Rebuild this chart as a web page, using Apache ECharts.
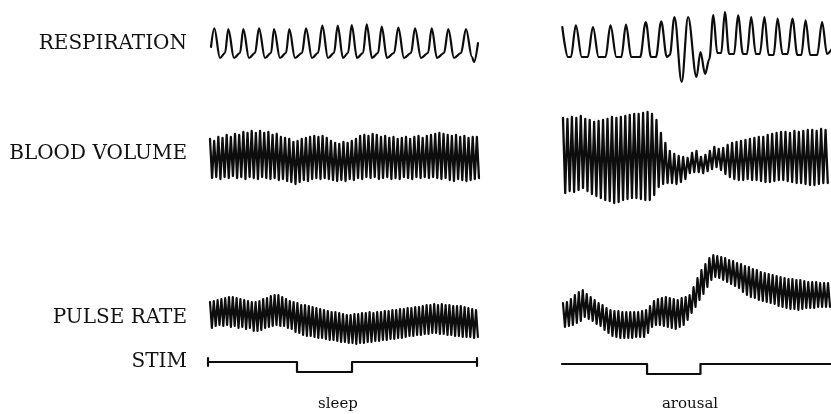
<!DOCTYPE html>
<html>
<head>
<meta charset="utf-8">
<script src="https://cdn.jsdelivr.net/npm/echarts@6/dist/echarts.min.js"></script>
<style>
html,body{margin:0;padding:0;background:#fff;}
#chart{width:831px;height:414px;}
</style>
</head>
<body>
<div id="chart"></div>
<script>
// ---- Data (time in chart units along each record, values = pen deflection) ----
var traceLabels = ['RESPIRATION', 'BLOOD VOLUME', 'PULSE RATE', 'STIM'];
var conditionLabels = ['sleep', 'arousal'];

// Respiration, sleep: [time, deflection]
var respSleep = [[3,43],[6.3,61.7],[12,32],[17,37],
  [20.3,61],[26,32],[32,37],[35.3,61],[41,32],[47,37],
  [51,61.7],[57,32],[63,37],[66,61],[72,32],[78,37],
  [81.3,61],[87,32],[94,37],[98,61.7],[104,32],[110,37],
  [114.3,64.3],[120,32],[126,37],[129.7,64.3],[135,32],[140,37],
  [143.7,65],[149,32],[155,37],[158.7,65.7],[164,32],[170,37],
  [173.7,63.3],[179,32],[186,37],[190.3,62.3],[196,32],[203,37],
  [207,61.7],[213,32],[220,37],[223.7,61.7],[229,32],[236,37],
  [240.3,61],[246,32],[253,37],[258,61],[264,33],[266,28],[270,47]];

// Respiration, arousal
var respArousal = [[0.3,63],[6,33],[9,33],[14,64.7],[20,33],[26,33],
  [31.3,63],[37,33],[44,33],[49,64.7],[55,33],[60,33],
  [64.7,65.3],[70,33],[79,33],[84.7,68],[90,33],[95,33],
  [100.3,68.7],[106,33],[109,35],[113.7,73],[121,8],[127.5,73],
  [136,13],[140,38],[144.7,16],[149,31],[153,75],[157,37],[161,37],
  [164.7,78],[169,36],[174,36],[178,74.7],[183,36],[187,36],
  [191.3,73],[196,36],[200,36],[204.7,73],[209,35],[214,35],
  [218,71.3],[223,36],[228,36],[233,71.3],[238,35],[242,35],
  [246.3,69.7],[251,35],[258,35],[263,68],[268,36],[272,40]];

// Blood volume, sleep: per beat upper / lower pen excursion
var bloodSleepStart = 2, bloodSleepBeat = 4.17;
var bloodSleepHi = [76,74,78,77,80,78,81,80,83,82,84,82,84,82,83,80,81,78,77,76,
  73,74,76,77,78,79,78,79,77,74,72,71,73,72,74,76,79,80,79,81,
  80,78,79,77,78,76,77,78,76,78,79,77,79,80,81,82,81,80,79,80,
  78,79,77,78,78];
var bloodSleepLo = [37,38,36,38,37,39,37,38,36,38,37,36,38,37,36,37,35,36,34,33,
  31,33,35,34,36,37,36,37,36,35,34,35,34,36,35,37,36,38,37,38,
  36,37,38,36,37,36,38,37,36,38,37,38,37,38,37,36,37,35,34,36,
  35,34,35,36,37];

// Blood volume, arousal
var bloodArousalStart = 1, bloodArousalBeat = 4.5;
var bloodArousalHi = [97,96,98,97,99,96,95,93,94,95,96,98,97,98,99,100,101,101,102,103,
  101,95,82,72,64,61,59,58,57,62,64,58,60,64,68,66,67,70,72,73,
  74,75,76,77,78,78,80,81,82,83,83,82,84,83,84,85,85,84,86,85];
var bloodArousalLo = [22,24,23,25,27,24,21,19,17,15,14,12,13,15,16,17,17,16,15,15,
  20,28,31,32,32,31,33,36,42,43,43,42,44,46,48,45,41,38,36,35,
  35,36,35,35,34,33,33,34,35,35,34,33,32,32,31,30,30,31,32,32];

// Pulse rate, sleep
var pulseSleepStart = 2, pulseSleepBeat = 3.8;
var pulseSleepHi = [48,49,50,51,52,53,53,52,51,50,49,48,48,49,51,52,54,55,55,53,
  51,49,48,47,45,45,44,43,42,41,40,39,38,38,37,36,35,35,36,36,
  37,37,38,37,38,38,39,39,40,40,41,41,42,42,43,43,44,45,45,46,
  45,46,45,45,44,44,44,43,42,41,40];
var pulseSleepLo = [22,24,25,24,25,23,24,22,23,21,22,19,19,20,22,23,24,25,24,24,
  22,21,18,17,15,14,14,13,12,12,11,10,10,9,8,8,7,7,6,7,
  7,8,8,9,9,10,10,11,11,12,12,13,14,14,15,15,16,16,17,17,
  16,16,15,15,14,14,13,13,13,12,13];

// Pulse rate, arousal
var pulseArousalStart = 1, pulseArousalBeat = 4;
var pulseArousalHi = [47,48,51,55,58,60,56,53,50,47,45,42,40,39,39,38,38,38,38,38,
  39,40,44,49,51,52,53,52,51,50,52,53,55,63,72,80,86,92,95,94,
  93,92,90,89,87,86,84,83,81,80,78,77,76,75,74,73,72,71,71,70,
  70,69,68,68,68,67,67,67];
var pulseArousalLo = [23,24,25,27,29,33,31,29,26,24,20,17,14,13,12,12,12,12,13,13,
  13,17,23,25,25,24,23,22,21,23,25,30,37,43,50,56,63,70,73,72,
  70,68,66,64,62,58,55,53,52,50,49,48,47,46,44,43,42,41,41,40,
  41,42,42,42,43,43,43,43];

// Stimulus marker: [time, level]
var stimSleep = [[0,20],[0,12],[0,16],[89,16],[89,6],[144,6],[144,16],[269,16],[269,20],[269,12]];
var stimArousal = [[0,14],[86,14],[86,4],[140,4],[140,14],[272,14]];

// ---- Build beat-by-beat traces ----
function beats(start, beat, hi, lo) {
  var out = [];
  for (var i = 0; i < hi.length; i++) {
    out.push([start + i * beat, hi[i]]);
    out.push([start + (i + 0.5) * beat, lo[i]]);
  }
  return out;
}

var cols = [208, 562];
var rows = [{top: 15, h: 75}, {top: 105, h: 110}, {top: 245, h: 105}, {top: 352, h: 26}];
var traces = [
  [respSleep, respArousal],
  [beats(bloodSleepStart, bloodSleepBeat, bloodSleepHi, bloodSleepLo),
   beats(bloodArousalStart, bloodArousalBeat, bloodArousalHi, bloodArousalLo)],
  [beats(pulseSleepStart, pulseSleepBeat, pulseSleepHi, pulseSleepLo),
   beats(pulseArousalStart, pulseArousalBeat, pulseArousalHi, pulseArousalLo)],
  [stimSleep, stimArousal]
];
var widths = [2.2, 2.3, 2.2, 2.2];
var smooth = [0.35, false, false, false];

var grids = [], xAxes = [], yAxes = [], series = [];
var k = 0;
for (var r = 0; r < rows.length; r++) {
  for (var c = 0; c < 2; c++) {
    grids.push({left: cols[c], top: rows[r].top, width: 272, height: rows[r].h, containLabel: false});
    xAxes.push({type: 'value', gridIndex: k, min: 0, max: 272, show: false});
    yAxes.push({type: 'value', gridIndex: k, min: 0, max: rows[r].h, show: false});
    series.push({
      type: 'line', xAxisIndex: k, yAxisIndex: k, data: traces[r][c],
      showSymbol: false, smooth: smooth[r], smoothMonotone: 'x', clip: false,
      lineStyle: {color: '#0d0d0d', width: widths[r], join: 'round', cap: 'round'}
    });
    k++;
  }
}

var labelY = [44, 154, 318, 362];
var graphics = [];
for (var j = 0; j < traceLabels.length; j++) {
  graphics.push({type: 'text', x: 187, y: labelY[j],
    style: {text: traceLabels[j], fill: '#111', font: '20px "DejaVu Serif"', textAlign: 'right', textVerticalAlign: 'middle'}});
}
graphics.push({type: 'text', x: 338, y: 404, style: {text: conditionLabels[0], fill: '#111', font: '15px "DejaVu Serif"', textAlign: 'center', textVerticalAlign: 'middle'}});
graphics.push({type: 'text', x: 690, y: 404, style: {text: conditionLabels[1], fill: '#111', font: '15px "DejaVu Serif"', textAlign: 'center', textVerticalAlign: 'middle'}});

var chart = echarts.init(document.getElementById('chart'), null, {renderer: 'canvas'});
chart.setOption({
  animation: false,
  backgroundColor: '#fff',
  grid: grids, xAxis: xAxes, yAxis: yAxes, series: series,
  graphic: graphics
});
</script>
</body>
</html>
